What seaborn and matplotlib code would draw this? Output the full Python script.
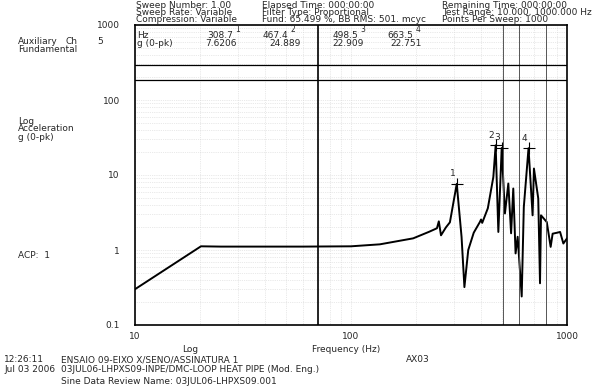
import matplotlib
matplotlib.use('Agg')
import matplotlib.pyplot as plt
import matplotlib.ticker as mticker
import seaborn as sns
import pandas as pd

# ---- data ----
freq_hz = [10, 20.2, 25, 40, 60, 100, 136, 194, 230, 250, 255, 261, 275, 287,
           308.7, 325, 335, 349, 370, 395, 400, 405, 430, 456, 467.4, 481,
           498.5, 516, 535, 551, 564, 578, 591, 617, 631, 663.5, 693, 703,
           736, 750, 758, 806, 840, 858, 900, 929, 962, 1000]
accel_g = [0.30, 1.12, 1.11, 1.11, 1.11, 1.12, 1.19, 1.43, 1.75, 1.95, 2.41, 1.57, 2.0, 2.34,
           7.62, 1.49, 0.32, 1.0, 1.7, 2.36, 2.55, 2.3, 3.6, 9.4, 24.889, 1.74,
           22.909, 3.07, 7.7, 1.67, 6.6, 0.9, 1.5, 0.24, 3.73, 22.751, 2.9, 12.2,
           4.87, 0.36, 2.9, 2.36, 1.1, 1.65, 1.7, 1.74, 1.22, 1.43]
peak_freq = [308.7, 467.4, 498.5, 663.5]
peak_g = [7.6206, 24.889, 22.909, 22.751]
peak_ids = ['1', '2', '3', '4']
peak_freq_text = ['308.7', '467.4', '498.5', '663.5']
peak_g_text = ['7.6206', '24.889', '22.909', '22.751']
cursor_freqs = [70.3, 505, 600, 800]
table_levels = [293, 185]
x_ticks = [10, 100, 1000]
x_tick_labels = ['10', '100', '1000']
y_ticks = [0.1, 1, 10, 100, 1000]
y_tick_labels = ['0.1', '1', '10', '100', '1000']

sns.set_style('white')
plt.rcParams['font.family'] = ['DejaVu Sans']

W, H = 597, 387
fig = plt.figure(figsize=(5.97, 3.87), dpi=100)
L, R, T, B = 135, 567, 25, 325
ax = fig.add_axes([L / W, 1 - B / H, (R - L) / W, (B - T) / H])

df = pd.DataFrame({'f': freq_hz, 'g': accel_g})
sns.lineplot(data=df, x='f', y='g', ax=ax, color='black', lw=1.4,
             estimator=None, sort=False)
pk = pd.DataFrame({'f': peak_freq, 'g': peak_g})
sns.scatterplot(data=pk, x='f', y='g', ax=ax, marker='+', s=70,
                color='black', linewidth=0.8, zorder=5)
fs = 6.5
for f, g, t in zip(peak_freq, peak_g, peak_ids):
    ax.annotate(t, (f, g), xytext=(-3, 4), textcoords='offset points',
                fontsize=fs, ha='center', va='bottom')

ax.set_xscale('log')
ax.set_yscale('log')
ax.set_xlim(10, 1000)
ax.set_ylim(0.1, 1000)

ax.set_xticks(x_ticks)
ax.set_xticklabels(x_tick_labels)
ax.set_yticks(y_ticks)
ax.set_yticklabels(y_tick_labels)
ax.xaxis.set_minor_locator(mticker.LogLocator(base=10, subs=range(2, 10)))
ax.yaxis.set_minor_locator(mticker.LogLocator(base=10, subs=range(2, 10)))
ax.xaxis.set_minor_formatter(mticker.NullFormatter())
ax.yaxis.set_minor_formatter(mticker.NullFormatter())
ax.tick_params(which='both', length=0)
ax.tick_params(axis='y', labelsize=fs, pad=11)
ax.tick_params(axis='x', labelsize=fs, pad=5)
ax.grid(which='both', ls=':', lw=0.5, color='#d4d4d4')
ax.set_xlabel('')
ax.set_ylabel('')
for s in ax.spines.values():
    s.set_color('black')
    s.set_linewidth(1.2)

ax.axvline(cursor_freqs[0], color='black', lw=1.2)
for cf in cursor_freqs[1:]:
    ax.axvline(cf, color='#555555', lw=0.7)
for lv in table_levels:
    ax.axhline(lv, color='black', lw=0.9)


def txt(x, y, s, ha='left', size=fs):
    fig.text(x / W, 1 - y / H, s, ha=ha, va='center', fontsize=size)


# header
txt(136, 5, 'Sweep Number: 1.00')
txt(136, 12.5, 'Sweep Rate: Variable')
txt(136, 20, 'Compression: Variable')
txt(262, 5, 'Elapsed Time: 000:00:00')
txt(262, 12.5, 'Filter Type: Proportional')
txt(262, 20, 'Fund: 65.499 %, BB RMS: 501. mcyc')
txt(442, 5, 'Remaining Time: 000:00:00')
txt(442, 12.5, 'Test Range: 10.000, 1000.000 Hz')
txt(442, 20, 'Points Per Sweep: 1000')

# table
txt(137, 35.5, 'Hz')
txt(137, 44, 'g (0-pk)')
hz_right = [233, 288, 358, 413]
g_right = [237, 301, 364, 422]
for xr, gr, ft, gt, pid in zip(hz_right, g_right, peak_freq_text, peak_g_text, peak_ids):
    txt(xr, 35.5, ft, ha='right')
    txt(gr, 44, gt, ha='right')
    txt(xr + 5, 30, pid, ha='center', size=5.5)

# left labels
txt(18, 42, 'Auxiliary')
txt(66, 42, 'Ch')
txt(97, 42, '5')
txt(18, 50, 'Fundamental')
txt(18, 121, 'Log')
txt(18, 129, 'Acceleration')
txt(18, 137, 'g (0-pk)')
txt(18, 255, 'ACP:  1')

# bottom
txt(190, 349, 'Log', ha='center')
txt(346, 349, 'Frequency (Hz)', ha='center')
txt(418, 359, 'AX03', ha='center')
txt(4, 360, '12:26:11')
txt(4, 369, 'Jul 03 2006')
txt(61, 360, 'ENSAIO 09-EIXO X/SENO/ASSINATURA 1')
txt(61, 369, '03JUL06-LHPXS09-INPE/DMC-LOOP HEAT PIPE (Mod. Eng.)')
txt(61, 381, 'Sine Data Review Name: 03JUL06-LHPXS09.001')

fig.savefig('out.png', dpi=100)
